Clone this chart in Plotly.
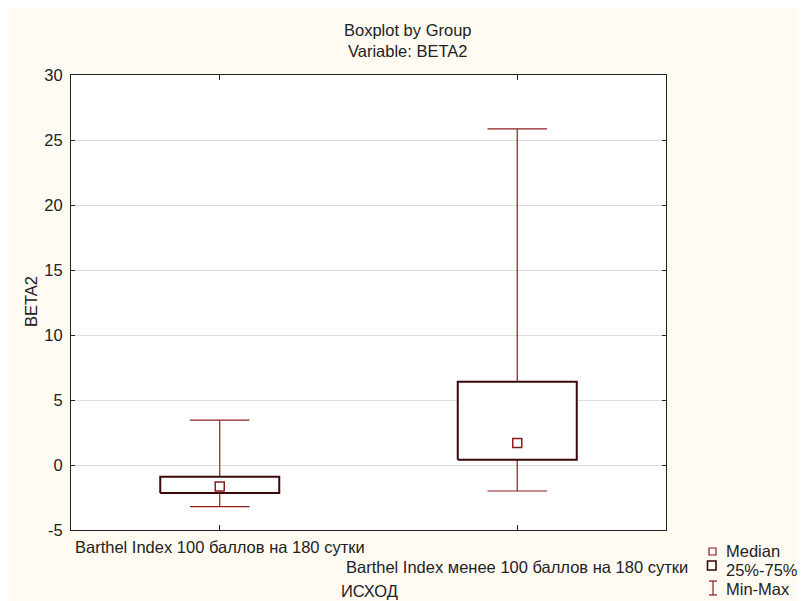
import plotly.graph_objects as go

# ---- data ----
categories = ["Barthel Index 100 баллов на 180 сутки",
              "Barthel Index менее 100 баллов на 180 сутки"]
minimum = [-3.2, -2.0]
q1 = [-2.15, 0.4]
median = [-1.65, 1.7]
q3 = [-0.9, 6.4]
maximum = [3.45, 25.85]
y_ticks = [-5, 0, 5, 10, 15, 20, 25, 30]
y_tick_labels = ["-5", "0", "5", "10", "15", "20", "25", "30"]

# ---- layout geometry (screen pixels) ----
SW, SH = 805, 601
OFF = 8  # page body margin
L, R, T, B = 71, 666, 75, 530
FONT = "Liberation Sans, Arial, sans-serif"
FS = 16.5
TXT = "#222222"
WHISK = "#8c1c1c"
BOXC = "#3a0808"

def px(X):
    return (X - L) / (R - L)

def py(Y):
    return (B - Y) / (B - T)

BOX_HALF = 0.2
CAP_HALF = 0.1

fig = go.Figure()

# whiskers + caps
wx, wy = [], []
for i in range(len(categories)):
    wx += [i, i, None, i - CAP_HALF, i + CAP_HALF, None, i - CAP_HALF, i + CAP_HALF, None]
    wy += [minimum[i], maximum[i], None, maximum[i], maximum[i], None, minimum[i], minimum[i], None]
fig.add_trace(go.Scatter(x=wx, y=wy, mode="lines", line=dict(color=WHISK, width=1.2),
                         hoverinfo="skip", showlegend=False))

# boxes
for i in range(len(categories)):
    fig.add_trace(go.Scatter(
        x=[i - BOX_HALF, i + BOX_HALF, i + BOX_HALF, i - BOX_HALF, i - BOX_HALF],
        y=[q1[i], q1[i], q3[i], q3[i], q1[i]],
        mode="lines", fill="toself", fillcolor="white",
        line=dict(color=BOXC, width=2), hoverinfo="skip", showlegend=False))

# medians
fig.add_trace(go.Scatter(x=list(range(len(categories))), y=median, mode="markers",
                         marker=dict(symbol="square-open", size=9, color=WHISK,
                                     line=dict(width=1.5, color=WHISK)),
                         showlegend=False))

shapes = [
    dict(type="rect", xref="paper", yref="paper", x0=px(709), x1=px(716), y0=py(555), y1=py(548),
         fillcolor="white", line=dict(color=WHISK, width=1.2)),
    dict(type="rect", xref="paper", yref="paper", x0=px(707.5), x1=px(716), y0=py(570), y1=py(561),
         fillcolor="white", line=dict(color=BOXC, width=1.6)),
    dict(type="line", xref="paper", yref="paper", x0=px(713), x1=px(713), y0=py(595), y1=py(581),
         line=dict(color=WHISK, width=1.2)),
    dict(type="line", xref="paper", yref="paper", x0=px(709), x1=px(717), y0=py(581), y1=py(581),
         line=dict(color=WHISK, width=1.2)),
    dict(type="line", xref="paper", yref="paper", x0=px(709), x1=px(717), y0=py(595), y1=py(595),
         line=dict(color=WHISK, width=1.2)),
]

def txt(text, x, y, xref="paper", xanchor="center", angle=0):
    return dict(text=text, xref=xref, yref="paper", x=x, y=y, xanchor=xanchor, yanchor="middle",
                showarrow=False, textangle=angle, font=dict(size=FS, color=TXT, family=FONT))

ann = [
    txt("Boxplot by Group<br>Variable: BETA2", px(408), py(40.5)),
    txt(categories[0], 0, py(547), xref="x"),
    txt(categories[1], 1, py(567), xref="x"),
    txt("ИСХОД", px(369), py(591)),
    txt("BETA2", px(31), py(302), angle=-90),
    txt("Median", px(724), py(551), xanchor="left"),
    txt("25%-75%", px(724), py(570), xanchor="left"),
    txt("Min-Max", px(724), py(589), xanchor="left"),
]

W, H = SW - OFF, SH - OFF
fig.update_layout(
    width=W, height=H,
    margin=dict(l=L - OFF, r=SW - R, t=T - OFF, b=SH - B, pad=0),
    paper_bgcolor="#fffbf3", plot_bgcolor="white",
    font=dict(family=FONT, size=FS, color=TXT),
    shapes=shapes, annotations=ann, showlegend=False,
)
fig.update_xaxes(range=[-0.5, 1.5], tickvals=list(range(len(categories))), showticklabels=False,
                 ticks="inside", ticklen=5, tickcolor="#222", showgrid=False, zeroline=False,
                 showline=True, linecolor="#222", linewidth=1, mirror="ticks")
fig.update_yaxes(range=[-5, 30], tickvals=y_ticks, ticktext=y_tick_labels,
                 ticks="inside", ticklen=4, tickcolor="#222",
                 showgrid=True, gridcolor="#dcdcdc", gridwidth=1, zeroline=False,
                 showline=True, linecolor="#222", linewidth=1, mirror="ticks",
                 tickfont=dict(size=FS, color=TXT, family=FONT), ticklabelstandoff=4)

fig.write_html("out.html")
